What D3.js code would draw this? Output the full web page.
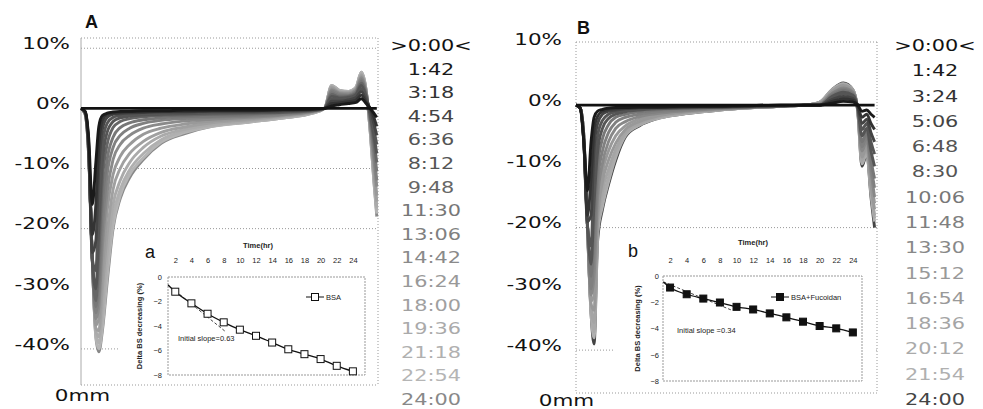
<!DOCTYPE html>
<html>
<head>
<meta charset="utf-8">
<title>Delta BS profiles</title>
<style>
  body { margin: 0; background: #fff; }
  svg text { font-family: "DejaVu Sans", sans-serif; }
  .big { font-size: 16.5px; fill: #111; }
  .legend { font-size: 16px; }
  .panel-letter { font-family: "Liberation Sans", Arial, sans-serif; font-size: 18px; font-weight: bold; fill: #111; }
  .grid, .frame { fill: none; stroke: #999; stroke-width: 1; stroke-dasharray: 1,2; }
  .frame-solid { stroke: #aaa; stroke-width: 1; }
  .curve { fill: none; stroke-width: 2.9; stroke-linejoin: round; }
  .inset text { font-family: "Liberation Sans", Arial, sans-serif; font-size: 7.5px; fill: #222; }
  .inset .bold { font-weight: bold; }
  .inset .letter { font-size: 18px; font-weight: normal; fill: #111; }
  .inset-box { fill: none; stroke: #999; stroke-width: 1; stroke-dasharray: 2,1; }
  .fit { fill: none; stroke: #111; stroke-width: 1.3; }
  .tangent { fill: none; stroke: #444; stroke-width: 1; stroke-dasharray: 3,2; }
</style>
</head>
<body>
<svg id="chart" width="983" height="409"></svg>
<script src="https://d3js.org/d3.v7.min.js"></script>
<script>
// ---- panel A : BSA ----
var timesA = [">0:00<", "1:42", "3:18", "4:54", "6:36", "8:12", "9:48", "11:30", "13:06",
              "14:42", "16:24", "18:00", "19:36", "21:18", "22:54", "24:00"];
var shadesA = ["#111", "#1a1a1a", "#333", "#444", "#555", "#555", "#666", "#777", "#808080",
               "#8a8a8a", "#999", "#a0a0a0", "#aaa", "#b0b0b0", "#b5b5b5", "#888"];
// cell height (mm) where each profile was read
var posA = [0, 0.7, 1.3, 1.9, 2.5, 3.0, 3.6, 4.4, 5.4, 6.6, 8.2, 10.5, 13.5, 17.5, 22, 28, 34, 39,
            41, 42.2, 43.5, 45, 46.3, 47.2, 48, 48.7, 49.3, 49.8];
// delta backscattering (%) per time
var bsA = [
  [0, 0, 0, 0, 0, 0, 0, 0, 0, 0, 0, 0, 0, 0, 0, 0, 0, 0, 0, 0, 0, 0, 0, 0, 0, 0, 0, 0],
  [0, -0.5, -5, -16, -9, -3, -1.2, -0.8, -0.6, -0.5, -0.5, -0.4, -0.4, -0.3, -0.3, -0.3, -0.2, -0.1, 0, 0.4, 0.6, 0.8, 1.0, 1.6, 0.8, 0, -0.8, -1.5],
  [0, -0.6, -6, -21, -16, -6, -2, -1.0, -0.8, -0.7, -0.6, -0.6, -0.5, -0.5, -0.4, -0.4, -0.3, -0.2, 0, 0.8, 0.9, 1.1, 1.4, 2.2, 1.0, 0, -1.5, -3],
  [0, -0.6, -6.5, -24, -22, -10, -3.5, -1.5, -1.0, -0.9, -0.8, -0.7, -0.6, -0.6, -0.5, -0.5, -0.4, -0.2, 0, 1.2, 1.2, 1.4, 1.8, 2.8, 1.3, -0.3, -2.5, -4.5],
  [0, -0.7, -7, -25, -27, -15, -6, -2.5, -1.5, -1.2, -1.0, -0.9, -0.8, -0.7, -0.6, -0.6, -0.5, -0.3, 0, 1.6, 1.5, 1.6, 2.1, 3.3, 1.6, -0.6, -3.5, -6],
  [0, -0.7, -7, -25, -30, -20, -9, -4, -2.2, -1.6, -1.3, -1.1, -1.0, -0.9, -0.8, -0.7, -0.6, -0.3, 0, 2.0, 1.7, 1.8, 2.3, 3.8, 1.9, -1.0, -4.5, -7.5],
  [0, -0.8, -7, -25, -32, -24, -12, -6, -3.2, -2.2, -1.7, -1.4, -1.2, -1.1, -1.0, -0.9, -0.7, -0.4, 0, 2.3, 1.9, 2.0, 2.5, 4.2, 2.1, -1.4, -5.5, -9],
  [0, -0.8, -7.5, -25, -33, -28, -16, -8.5, -4.8, -3.2, -2.4, -1.9, -1.6, -1.4, -1.3, -1.1, -0.8, -0.4, 0, 2.6, 2.1, 2.1, 2.7, 4.5, 2.3, -1.8, -6.5, -10.5],
  [0, -0.8, -7.5, -25, -34, -31, -20, -11, -6.5, -4.5, -3.3, -2.5, -2.0, -1.7, -1.5, -1.3, -1.0, -0.5, 0, 2.9, 2.3, 2.2, 2.8, 4.8, 2.5, -2.2, -7.5, -12],
  [0, -0.9, -7.5, -25, -35, -33, -23, -14, -8.5, -6, -4.5, -3.3, -2.6, -2.1, -1.8, -1.5, -1.1, -0.5, 0, 3.1, 2.5, 2.4, 3.0, 5.1, 2.6, -2.6, -8.5, -13],
  [0, -0.9, -7.5, -25, -36, -35, -27, -17, -11, -8, -6, -4.3, -3.3, -2.6, -2.1, -1.7, -1.2, -0.6, 0, 3.3, 2.6, 2.5, 3.1, 5.3, 2.7, -3.0, -9.5, -14.5],
  [0, -0.9, -7.5, -25, -36.5, -37, -30, -21, -13.5, -10, -7.5, -5.5, -4.0, -3.1, -2.4, -1.9, -1.3, -0.6, 0, 3.5, 2.7, 2.6, 3.2, 5.5, 2.8, -3.3, -10.5, -15.5],
  [0, -0.9, -8, -25, -37, -38, -33, -24, -16, -12, -9, -6.5, -4.6, -3.5, -2.7, -2.1, -1.4, -0.7, 0, 3.6, 2.8, 2.7, 3.3, 5.7, 2.9, -3.6, -11, -16.5],
  [0, -1, -8, -25, -37.5, -39, -35, -26.5, -18, -13.5, -10.2, -7.5, -5.2, -3.8, -2.9, -2.2, -1.5, -0.7, 0, 3.7, 2.9, 2.7, 3.4, 5.8, 2.9, -3.8, -11.5, -17],
  [0, -1, -8, -25, -38, -40, -36.5, -28, -19.5, -14.5, -11, -8.2, -5.6, -4.0, -3.0, -2.3, -1.6, -0.8, 0, 3.8, 3.0, 2.8, 3.5, 6.0, 3.0, -4, -12, -17.5],
  [0, -1, -8, -25, -38, -40.5, -37, -29, -20, -15, -11.5, -8.5, -5.8, -4.2, -3.0, -2.3, -1.6, -0.8, 0, 3.8, 3.0, 2.8, 3.5, 6.0, 3.0, -4, -12, -18]
];

// ---- panel B : BSA + Fucoidan ----
var timesB = [">0:00<", "1:42", "3:24", "5:06", "6:48", "8:30", "10:06", "11:48", "13:30",
              "15:12", "16:54", "18:36", "20:12", "21:54", "24:00"];
var shadesB = ["#111", "#1a1a1a", "#333", "#444", "#555", "#555", "#777", "#808080", "#888",
               "#999", "#999", "#a5a5a5", "#aaa", "#b0b0b0", "#444"];
var posB = [0, 0.7, 1.3, 1.9, 2.5, 3.0, 3.6, 4.4, 5.4, 6.6, 8.2, 10.5, 13.5, 17.5, 22, 28, 34, 38,
            40.5, 42.5, 44.4, 46, 46.8, 47.5, 48.3, 49.0, 49.6];
var bsB = [
  [0, 0, 0, 0, 0, 0, 0, 0, 0, 0, 0, 0, 0, 0, 0, 0, 0, 0, 0, 0, 0, 0, 0, 0, 0, 0, 0],
  [0, -0.5, -6, -14, -6, -2, -1, -0.7, -0.5, -0.4, -0.4, -0.3, -0.3, -0.2, -0.2, -0.1, 0, 0, 0, 0.3, 0.6, 0.5, 0, -1, -0.8, -1.5, -2],
  [0, -0.5, -6, -18, -12, -4, -1.8, -1.0, -0.7, -0.6, -0.5, -0.4, -0.4, -0.3, -0.2, -0.1, 0, 0, 0, 0.6, 1.0, 0.8, -0.1, -2, -1.5, -3, -4],
  [0, -0.5, -6, -19, -18, -7, -3, -1.5, -1.0, -0.8, -0.6, -0.5, -0.4, -0.3, -0.3, -0.2, -0.1, 0, 0, 0.9, 1.4, 1.1, -0.2, -3, -2.3, -4.5, -6],
  [0, -0.5, -6, -19.5, -23, -11, -5, -2.5, -1.5, -1.1, -0.8, -0.6, -0.5, -0.4, -0.3, -0.2, -0.1, 0, 0, 1.2, 1.8, 1.4, -0.3, -4, -3, -6, -8],
  [0, -0.5, -6, -19.5, -26, -16, -7.5, -3.8, -2.2, -1.5, -1.1, -0.8, -0.6, -0.5, -0.4, -0.3, -0.1, 0, 0, 1.4, 2.1, 1.6, -0.4, -5, -3.8, -7.5, -10],
  [0, -0.5, -5.5, -19.5, -28, -20, -10, -5.5, -3.2, -2.0, -1.5, -1.1, -0.8, -0.6, -0.5, -0.3, -0.1, 0, 0.1, 1.6, 2.4, 1.8, -0.5, -6, -4.5, -9, -12],
  [0, -0.5, -5.5, -19.5, -30, -24, -12.5, -7.5, -4.5, -2.8, -2.0, -1.5, -1.1, -0.8, -0.6, -0.4, -0.2, 0, 0.1, 1.8, 2.6, 2.0, -0.6, -6.8, -5.2, -10, -13.5],
  [0, -0.5, -5.5, -19.5, -31, -28, -15, -9.5, -6, -3.8, -2.7, -1.9, -1.4, -1.0, -0.7, -0.4, -0.2, 0, 0.2, 1.9, 2.8, 2.1, -0.7, -7.5, -5.8, -11, -15],
  [0, -0.5, -5.5, -19.5, -32, -31, -17, -11, -7.5, -5, -3.4, -2.3, -1.6, -1.1, -0.8, -0.5, -0.2, 0, 0.3, 2.1, 3.0, 2.2, -0.8, -8, -6.3, -12, -16],
  [0, -0.5, -5, -19.5, -32.5, -33.5, -18.5, -12.5, -9, -6.2, -4.0, -2.7, -1.8, -1.2, -0.8, -0.5, -0.2, 0, 0.3, 2.2, 3.2, 2.3, -0.8, -8.5, -6.8, -13, -17],
  [0, -0.5, -5, -19.5, -33, -35.5, -19.5, -14, -10.5, -7.2, -4.5, -3.0, -2.0, -1.3, -0.9, -0.5, -0.2, 0, 0.4, 2.3, 3.3, 2.4, -0.9, -9, -7.2, -13.5, -18],
  [0, -0.5, -5, -19.5, -33.5, -37, -20.5, -15.5, -11.8, -8, -4.8, -3.2, -2.1, -1.4, -0.9, -0.5, -0.2, 0, 0.4, 2.4, 3.4, 2.4, -0.9, -9.3, -7.5, -14, -18.5],
  [0, -0.5, -5, -20, -34, -38, -21, -16.5, -12.5, -8.5, -5.0, -3.3, -2.2, -1.5, -1.0, -0.5, -0.2, 0, 0.5, 2.5, 3.5, 2.5, -1, -9.6, -7.8, -14.5, -19],
  [0, -0.5, -5, -20, -34, -39, -22, -17, -13, -9, -5.2, -3.4, -2.2, -1.5, -1.0, -0.5, -0.2, 0, 0.5, 2.5, 3.6, 2.5, -1, -10, -8, -15, -20]
];

var percentTicks = [10, 0, -10, -20, -30, -40];
var gridA = [10, -10, -20, -40];
var gridB = [-20, -40];

// ---- insets : delta BS decreasing vs time ----
var hours = [2, 4, 6, 8, 10, 12, 14, 16, 18, 20, 22, 24];
var bsaLoss = [-1.2, -2.15, -3.0, -3.7, -4.3, -4.8, -5.35, -5.9, -6.3, -6.7, -7.25, -7.7];
var fucoidanLoss = [-0.88, -1.39, -1.72, -2.02, -2.35, -2.55, -2.85, -3.15, -3.48, -3.81, -3.99, -4.3];
var fitStartA = [1.1, -0.65];
var fitStartB = [1.2, -0.45];
var tangentA = [[1.1, -0.65], [8.3, -4.5]];
var tangentB = [[1.2, -0.45], [9.4, -2.6]];
var insetTicks = [0, -2, -4, -6, -8];

var svg = d3.select("#chart");

//the scanned lettering is wide: stretch each label's glyphs sideways
function widen(sel, k) {
  sel.each(function() {
    var w = this.getComputedTextLength();
    d3.select(this).attr("textLength", w * k).attr("lengthAdjust", "spacingAndGlyphs");
  });
}

function drawPanel(p) {
  var x = d3.scaleLinear().domain([0, 50]).range([p.left, p.right]);
  var y = d3.scaleLinear().domain(p.yDomain).range([p.bottom, p.top]);
  var g = svg.append("g");

  //dotted grid lines
  g.selectAll(".grid").data(p.grid).enter().append("line")
    .attr("class", "grid")
    .attr("x1", p.left).attr("x2", p.right)
    .attr("y1", function(d) { return y(d); }).attr("y2", function(d) { return y(d); });

  //plot frame
  var yMin = p.yDomain[0], yMax = p.yDomain[1];
  g.append("line").attr("class", "frame").attr("x1", p.left).attr("x2", p.right).attr("y1", y(yMax)).attr("y2", y(yMax));
  g.append("line").attr("class", "frame").attr("x1", p.left).attr("x2", p.right).attr("y1", y(yMin)).attr("y2", y(yMin));
  g.append("line").attr("class", "frame").attr("x1", p.right).attr("x2", p.right).attr("y1", y(yMax)).attr("y2", y(yMin));
  g.append("line").attr("class", p.solidLeft ? "frame-solid" : "frame")
    .attr("x1", p.left).attr("x2", p.left).attr("y1", y(yMax)).attr("y2", y(yMin));

  //one profile per time, latest drawn first so early (dark) ones sit on top
  var line = d3.line()
    .x(function(d) { return x(d[0]); })
    .y(function(d) { return y(d[1]); })
    .curve(d3.curveMonotoneX);
  var series = p.rows.map(function(row, i) {
    return { shade: p.shades[i], pts: row.map(function(v, j) { return [p.pos[j], v]; }) };
  });
  g.selectAll(".curve").data(series.slice().reverse()).enter().append("path")
    .attr("class", "curve")
    .attr("stroke", function(d) { return d.shade; })
    .attr("stroke-width", function(d, i) { return i === series.length - 1 ? 1.2 : null; })
    .attr("d", function(d) { return line(d.pts); });

  //y labels
  var ya = g.append("g")
    .attr("transform", "translate(" + p.left + ",0)")
    .call(d3.axisLeft(y).tickValues(percentTicks).tickSize(0).tickPadding(p.labelPad)
      .tickFormat(function(d) { return d + "%"; }));
  ya.select(".domain").remove();
  ya.selectAll("text").attr("class", "big").attr("dy", "0.02em").call(widen, 1.3);

  //x label
  var xa = g.append("g")
    .attr("transform", "translate(0," + p.bottom + ")")
    .call(d3.axisBottom(x).tickValues([0]).tickSize(0).tickPadding(p.mmPad)
      .tickFormat(function() { return "0mm"; }));
  xa.select(".domain").remove();
  xa.selectAll("text").attr("class", "big").attr("dx", p.mmDx).call(widen, 1.3);

  //panel letter
  g.append("text").attr("class", "panel-letter")
    .attr("x", p.letterX).attr("y", p.letterY).text(p.letter);

  //time legend
  var ly = d3.scalePoint().domain(p.times).range([51, 405]);
  g.selectAll(".legend").data(p.times).enter().append("text")
    .attr("class", "legend")
    .attr("x", p.legendX)
    .attr("y", function(d) { return ly(d); })
    .attr("text-anchor", "middle")
    .attr("fill", function(d, i) { return p.shades[i]; })
    .text(function(d) { return d; })
    .call(widen, 1.3);
}

function drawInset(q) {
  var g = svg.append("g").attr("class", "inset");
  g.append("rect").attr("x", q.back[0]).attr("y", q.back[1])
    .attr("width", q.back[2]).attr("height", q.back[3]).attr("fill", "#fff");

  var x = d3.scaleLinear().domain(q.tDomain).range([q.left, q.right]);
  var y = d3.scaleLinear().domain([-8, 0]).range([q.bottom, q.top]);

  g.append("rect").attr("class", "inset-box")
    .attr("x", q.left).attr("y", y(0))
    .attr("width", q.right - q.left).attr("height", y(-8) - y(0));

  //time axis on top
  var ta = g.append("g")
    .attr("transform", "translate(0," + q.tickY + ")")
    .call(d3.axisTop(x).tickValues(hours).tickSize(0).tickPadding(0));
  ta.select(".domain").remove();

  var va = g.append("g")
    .attr("transform", "translate(" + q.left + ",0)")
    .call(d3.axisLeft(y).tickValues(insetTicks).tickSize(0).tickPadding(q.tickPad));
  va.select(".domain").remove();

  g.append("text").attr("class", "bold").attr("x", q.titleX).attr("y", q.titleY)
    .attr("text-anchor", "middle").text("Time(hr)");
  g.append("text").attr("class", "bold")
    .attr("transform", "translate(" + q.yLabelX + "," + ((q.top + q.bottom) / 2) + ") rotate(-90)")
    .attr("text-anchor", "middle").text("Delta BS decreasing (%)");
  g.append("text").attr("class", "letter").attr("x", q.letterX).attr("y", q.letterY).text(q.letter);

  var line = d3.line().x(function(d) { return x(d[0]); }).y(function(d) { return y(d[1]); });
  g.append("path").attr("class", "tangent").attr("d", line(q.tangent));

  var pts = q.values.map(function(v, i) { return [hours[i], v]; });
  g.append("path").attr("class", "fit")
    .attr("d", line.curve(d3.curveMonotoneX)([q.fitStart].concat(pts)));

  g.selectAll(".pt").data(pts).enter().append("rect")
    .attr("class", "pt")
    .attr("x", function(d) { return x(d[0]) - 3.5; })
    .attr("y", function(d) { return y(d[1]) - 3.5; })
    .attr("width", 7).attr("height", 7)
    .attr("fill", q.filled ? "#111" : "#fff")
    .attr("stroke", "#111").attr("stroke-width", 1);

  //series key
  g.append("line").attr("x1", q.keyX - 9).attr("x2", q.keyX + 9)
    .attr("y1", q.keyY).attr("y2", q.keyY).attr("stroke", "#111").attr("stroke-width", 1);
  g.append("rect").attr("x", q.keyX - 3.5).attr("y", q.keyY - 3.5).attr("width", 7).attr("height", 7)
    .attr("fill", q.filled ? "#111" : "#fff").attr("stroke", "#111");
  g.append("text").attr("x", q.keyX + 11).attr("y", q.keyY + 2.5).text(q.name);

  g.append("text").attr("x", q.slopeX).attr("y", q.slopeY).text(q.slope);
}

drawPanel({
  left: 81, right: 378, top: 38, bottom: 385, yDomain: [-46, 11.7],
  pos: posA, rows: bsA, times: timesA, shades: shadesA, grid: gridA,
  solidLeft: true, labelPad: 11, mmPad: 4, mmDx: 1,
  letter: "A", letterX: 85, letterY: 28, legendX: 431
});
drawInset({
  back: [118, 236, 259, 146],
  left: 168, right: 365, top: 277, bottom: 375, tDomain: [1.1, 25.5],
  tickY: 263, tickPad: 6, titleX: 258, titleY: 248, yLabelX: 142,
  letter: "a", letterX: 145, letterY: 258,
  values: bsaLoss, fitStart: fitStartA, tangent: tangentA, filled: false,
  keyX: 315, keyY: 297, name: "BSA",
  slope: "Initial slope=0.63", slopeX: 178, slopeY: 341
});

drawPanel({
  left: 576, right: 877, top: 42, bottom: 393, yDomain: [-47, 10.3],
  pos: posB, rows: bsB, times: timesB, shades: shadesB, grid: gridB,
  solidLeft: false, labelPad: 14, mmPad: 1, mmDx: -10,
  letter: "B", letterX: 577, letterY: 34, legendX: 935
});
drawInset({
  back: [615, 236, 261, 153],
  left: 663, right: 862, top: 276, bottom: 381, tDomain: [1.15, 25.1],
  tickY: 263, tickPad: 4, titleX: 753, titleY: 245, yLabelX: 640,
  letter: "b", letterX: 628, letterY: 257,
  values: fucoidanLoss, fitStart: fitStartB, tangent: tangentB, filled: true,
  keyX: 780, keyY: 297, name: "BSA+Fucoidan",
  slope: "Initial slope =0.34", slopeX: 677, slopeY: 333
});
</script>
</body>
</html>
